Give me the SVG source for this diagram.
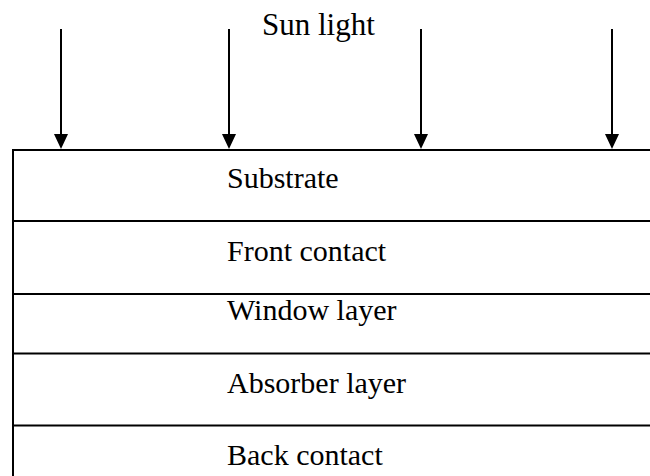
<svg xmlns="http://www.w3.org/2000/svg" width="650" height="476" viewBox="0 0 650 476">
  <style>
    .lbl { font-family: "Liberation Serif", "Times New Roman", serif; font-size: 30px; fill: #000; }
    .edge { stroke: #000; stroke-width: 2; fill: none; }
    .ray { stroke: #000; stroke-width: 2; fill: none; }
  </style>
  <defs>
    <marker id="head" markerWidth="14" markerHeight="16" refX="7" refY="16" orient="auto-start-reverse" markerUnits="userSpaceOnUse" viewBox="0 0 14 16">
      <path d="M0,0 L14,0 L7,16 Z" fill="#000"/>
    </marker>
  </defs>
  <rect width="650" height="476" fill="#fff"/>

  <text id="sunlight" class="lbl" x="262" y="35" style="font-size:31px">Sun light</text>

  <!-- incoming light rays -->
  <g id="connectors">
    <path class="ray" d="M61,29 V134" />
    <path class="ray" d="M229,29 V134" />
    <path class="ray" d="M421,29 V134" />
    <path class="ray" d="M612,29 V134" />
    <path d="M54,134 L68,134 L61,149 Z" fill="#000"/>
    <path d="M222,134 L236,134 L229,149 Z" fill="#000"/>
    <path d="M414,134 L428,134 L421,149 Z" fill="#000"/>
    <path d="M605,134 L619,134 L612,149 Z" fill="#000"/>
  </g>

  <!-- layer stack -->
  <g id="stack">
    <path class="edge" d="M13,477 V150 H652" />
  </g>
  <g id="substrate">
    <text class="lbl" x="227" y="188">Substrate</text>
  </g>
  <g id="front-contact">
    <path class="edge" d="M13,221 H652" />
    <text class="lbl" x="227" y="261">Front contact</text>
  </g>
  <g id="window-layer">
    <path class="edge" d="M13,294 H652" />
    <text class="lbl" x="227" y="320">Window layer</text>
  </g>
  <g id="absorber-layer">
    <path class="edge" d="M13,353.5 H652" />
    <text class="lbl" x="227" y="393">Absorber layer</text>
  </g>
  <g id="back-contact">
    <path class="edge" d="M13,425.5 H652" />
    <text class="lbl" x="227" y="465">Back contact</text>
  </g>
</svg>
